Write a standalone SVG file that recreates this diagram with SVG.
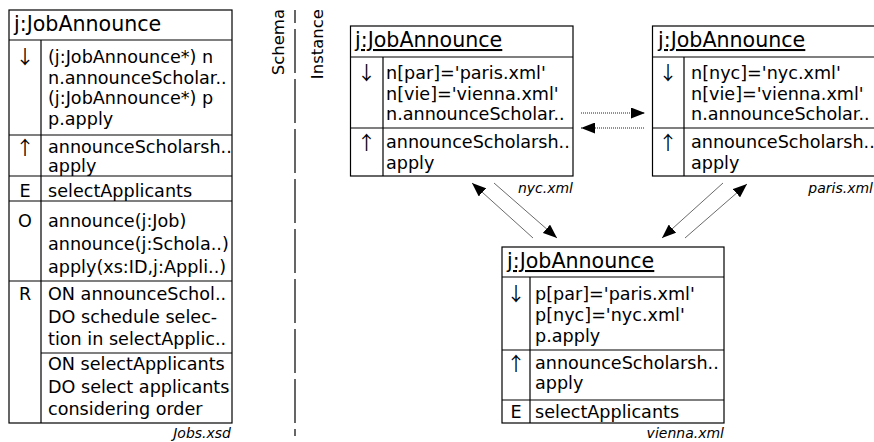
<svg xmlns="http://www.w3.org/2000/svg" width="874" height="442" viewBox="0 0 874 442">
<style>
.b{fill:#fff;stroke:#000;stroke-width:1.2}
.l{stroke:#000;stroke-width:1.2;fill:none}
text{font-family:"DejaVu Sans",Verdana,sans-serif;fill:#000}
.t{font-size:17.6px}
.h{font-size:20.6px}
.u{text-decoration:underline}
.i{font-size:17.6px;text-anchor:middle}
.a{font-family:"Noto Sans CJK JP","DejaVu Sans",sans-serif;font-size:19px;text-anchor:middle}
.f{font-size:14px;font-style:italic;text-anchor:end}
.v{font-size:16.5px;text-anchor:end}
.c{stroke:#444;stroke-width:0.8;fill:none}
.d{stroke:#222;stroke-width:1;stroke-dasharray:1 1;fill:none}
</style>
<defs>
<marker id="ah" viewBox="0 0 14 11" refX="14" refY="5.5" markerWidth="14" markerHeight="11" markerUnits="userSpaceOnUse" orient="auto">
<path d="M0,0 L14,5.5 L0,11 z" fill="#000"/>
</marker>
</defs>
<rect width="874" height="442" fill="#fff"/>

<g id="divider">
<line class="l" x1="295" y1="10" x2="295" y2="436" stroke-dasharray="44 6" stroke-dashoffset="31"/>
<text class="v" transform="translate(284,9) rotate(-90)">Schema</text>
<text class="v" transform="translate(323,9) rotate(-90)">Instance</text>
</g>

<g id="schema-jobannounce">
<rect class="b" x="9" y="10" width="223" height="413"/>
<path class="l" d="M9,40H232M9,135H232M9,176H232M9,201H232M9,281H232M41,353H232M41,40V423"/>
<text class="h" x="14" y="31">j:JobAnnounce</text>
<text class="a" x="25" y="64">↓</text>
<text class="t" x="48" y="63">(j:JobAnnounce*) n</text>
<text class="t" x="48" y="83.5">n.announceScholar..</text>
<text class="t" x="48" y="104">(j:JobAnnounce*) p</text>
<text class="t" x="48" y="124.5">p.apply</text>
<text class="a" x="25" y="155">↑</text>
<text class="t" x="48" y="153">announceScholarsh..</text>
<text class="t" x="48" y="172">apply</text>
<text class="i" x="25" y="196.5">E</text>
<text class="t" x="48" y="196.5">selectApplicants</text>
<text class="i" x="25" y="227">O</text>
<text class="t" x="48" y="227">announce(j:Job)</text>
<text class="t" x="48" y="250">announce(j:Schola..)</text>
<text class="t" x="48" y="273">apply(xs:ID,j:Appli..)</text>
<text class="i" x="25" y="300">R</text>
<text class="t" x="48" y="300">ON announceSchol..</text>
<text class="t" x="48" y="322.5">DO schedule selec-</text>
<text class="t" x="48" y="345">tion in selectApplic..</text>
<text class="t" x="48" y="370">ON selectApplicants</text>
<text class="t" x="48" y="392.5">DO select applicants</text>
<text class="t" x="48" y="415">considering order</text>
<text class="f" x="231" y="438">Jobs.xsd</text>
</g>

<g id="nyc">
<rect class="b" x="350.5" y="26" width="222.5" height="150"/>
<path class="l" d="M350.5,57H573M350.5,128H573M383,57V176"/>
<text class="h u" x="355" y="47">j:JobAnnounce</text>
<text class="a" x="366.5" y="80">↓</text>
<text class="t" x="386" y="79">n[par]='paris.xml'</text>
<text class="t" x="386" y="99.5">n[vie]='vienna.xml'</text>
<text class="t" x="386" y="120">n.announceScholar..</text>
<text class="a" x="366.5" y="150">↑</text>
<text class="t" x="386" y="148">announceScholarsh..</text>
<text class="t" x="386" y="168.5">apply</text>
<text class="f" x="573" y="193">nyc.xml</text>
</g>

<g id="paris">
<rect class="b" x="652.5" y="26" width="224" height="150"/>
<path class="l" d="M652.5,57H877M652.5,128H877M684,57V176"/>
<text class="h u" x="658" y="47">j:JobAnnounce</text>
<text class="a" x="668" y="80">↓</text>
<text class="t" x="691" y="79">n[nyc]='nyc.xml'</text>
<text class="t" x="691" y="99.5">n[vie]='vienna.xml'</text>
<text class="t" x="691" y="120">n.announceScholar..</text>
<text class="a" x="668" y="150">↑</text>
<text class="t" x="691" y="148">announceScholarsh..</text>
<text class="t" x="691" y="168.5">apply</text>
<text class="f" x="873" y="193">paris.xml</text>
</g>

<g id="vienna">
<rect class="b" x="502" y="247" width="222" height="176"/>
<path class="l" d="M502,277H724M502,350H724M502,400H724M530,277V423"/>
<text class="h u" x="507" y="268">j:JobAnnounce</text>
<text class="a" x="516" y="301">↓</text>
<text class="t" x="535" y="300">p[par]='paris.xml'</text>
<text class="t" x="535" y="321">p[nyc]='nyc.xml'</text>
<text class="t" x="535" y="342">p.apply</text>
<text class="a" x="516" y="371">↑</text>
<text class="t" x="535" y="369">announceScholarsh..</text>
<text class="t" x="535" y="389">apply</text>
<text class="i" x="516" y="418">E</text>
<text class="t" x="535" y="418">selectApplicants</text>
<text class="f" x="724" y="438">vienna.xml</text>
</g>

<g id="connectors">
<line class="d" x1="581" y1="113" x2="645" y2="113" marker-end="url(#ah)"/>
<line class="d" x1="644" y1="128" x2="581" y2="128" marker-end="url(#ah)"/>
<line class="c" x1="533" y1="238" x2="472" y2="183" marker-end="url(#ah)"/>
<line class="c" x1="494" y1="183" x2="557" y2="238" marker-end="url(#ah)"/>
<line class="c" x1="723" y1="183" x2="662" y2="238" marker-end="url(#ah)"/>
<line class="c" x1="685" y1="238" x2="747" y2="184" marker-end="url(#ah)"/>
</g>
</svg>
